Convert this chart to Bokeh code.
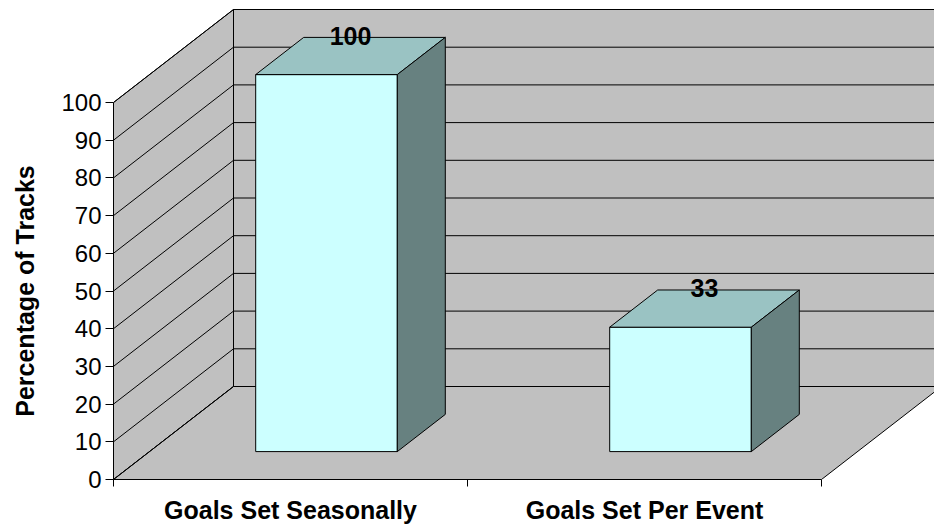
import math
from bokeh.plotting import figure
from bokeh.layouts import row
from bokeh.models import FixedTicker, Range1d
from bokeh.core.properties import value
from bokeh.embed import file_html
from bokeh.resources import INLINE

# ---- data ----
categories = ["Goals Set Seasonally", "Goals Set Per Event"]
values = [100, 33]
y_ticks = [0, 10, 20, 30, 40, 50, 60, 70, 80, 90, 100]
y_max = 100
y_title = "Percentage of Tracks"

# ---- 3D projection constants (data units) ----
DX = 120 / 354.0      # depth shift in x (category units)
DY = 93 / 3.77        # depth shift in y (value units)
BAR_X0, BAR_X1 = 0.3, 0.7   # bar extent within a category
BAR_Z0, BAR_Z1 = 0.3, 0.7   # bar extent in depth
FONT = "Liberation Sans"

WALL = "#C0C0C0"
FRONT = "#CCFFFF"
TOP = "#9AC3C3"
SIDE = "#678180"

TITLE_W = 44


def proj(x, y, z):
    return x + z * DX, y + z * DY


n = len(categories)
y_top = 479 / 3.77

p = figure(frame_width=821, frame_height=479,
           x_range=Range1d(0, 821 / 354.0), y_range=Range1d(0, y_top),
           output_backend="svg", toolbar_location=None,
           min_border_left=113 - TITLE_W, min_border_right=0, min_border_top=0, min_border_bottom=46)
p.xgrid.visible = False
p.ygrid.visible = False
p.outline_line_color = None
p.background_fill_color = "white"
p.border_fill_color = "white"

# back wall
bx = [proj(0, 0, 1)[0], proj(n + 0.2, 0, 1)[0], proj(n + 0.2, 0, 1)[0], proj(0, 0, 1)[0]]
by = [proj(0, 0, 1)[1], proj(0, 0, 1)[1], proj(0, y_max, 1)[1], proj(0, y_max, 1)[1]]
p.patch(bx, by, fill_color=WALL, line_color="black", line_width=1)

# side wall
sw = [proj(0, 0, 0), proj(0, y_max, 0), proj(0, y_max, 1), proj(0, 0, 1)]
p.patch([q[0] for q in sw], [q[1] for q in sw], fill_color=WALL, line_color="black", line_width=1)

# floor
fl = [proj(0, 0, 0), proj(n, 0, 0), proj(n, 0, 1), proj(0, 0, 1)]
p.patch([q[0] for q in fl], [q[1] for q in fl], fill_color=WALL, line_color="black", line_width=1)

# gridlines: back wall horizontals and side wall diagonals
gx, gy = [], []
for t in y_ticks:
    a = proj(0, t, 1)
    b = proj(n + 0.2, t, 1)
    gx.append([a[0], b[0]]); gy.append([a[1], b[1]])
    c = proj(0, t, 0)
    gx.append([c[0], a[0]]); gy.append([c[1], a[1]])
p.multi_line(gx, gy, line_color="black", line_width=1)

# bars
fxs, fys, txs, tys, sxs, sys_ = [], [], [], [], [], []
for i, v in enumerate(values):
    x0, x1 = i + BAR_X0, i + BAR_X1
    front = [proj(x0, 0, BAR_Z0), proj(x1, 0, BAR_Z0), proj(x1, v, BAR_Z0), proj(x0, v, BAR_Z0)]
    top = [proj(x0, v, BAR_Z0), proj(x1, v, BAR_Z0), proj(x1, v, BAR_Z1), proj(x0, v, BAR_Z1)]
    side = [proj(x1, 0, BAR_Z0), proj(x1, 0, BAR_Z1), proj(x1, v, BAR_Z1), proj(x1, v, BAR_Z0)]
    fxs.append([q[0] for q in front]); fys.append([q[1] for q in front])
    txs.append([q[0] for q in top]); tys.append([q[1] for q in top])
    sxs.append([q[0] for q in side]); sys_.append([q[1] for q in side])
p.patches(fxs, fys, fill_color=FRONT, line_color="black", line_width=1)
p.patches(txs, tys, fill_color=TOP, line_color="black", line_width=1)
p.patches(sxs, sys_, fill_color=SIDE, line_color="black", line_width=1)

# value labels
zm = (BAR_Z0 + BAR_Z1) / 2
lx = [proj(i + 0.5, v, zm)[0] for i, v in enumerate(values)]
ly = [proj(i + 0.5, v, zm)[1] + 20.5 / 3.77 for i, v in enumerate(values)]
p.text(x=lx, y=ly, text=[str(v) for v in values], text_font=value(FONT),
       text_font_size="25px", text_font_style="bold", text_color="black",
       text_align="center", text_baseline="alphabetic")

# y axis
ya = p.yaxis[0]
ya.ticker = FixedTicker(ticks=y_ticks)
ya.bounds = (0, y_max)
ya.axis_line_color = "black"
ya.major_tick_in = 0
ya.major_tick_out = 8
ya.minor_tick_line_color = None
ya.major_label_text_font = FONT
ya.major_label_text_font_size = "24px"
ya.major_label_text_color = "black"
ya.major_label_standoff = 4

# x axis
xa = p.xaxis[0]
xa.ticker = FixedTicker(ticks=[i + 0.5 for i in range(n)], minor_ticks=list(range(n + 1)))
xa.major_label_overrides = {i + 0.5: c for i, c in enumerate(categories)}
xa.bounds = (0, n)
xa.axis_line_color = "black"
xa.major_tick_line_color = None
xa.major_tick_in = 0
xa.major_tick_out = 0
xa.minor_tick_line_color = "black"
xa.minor_tick_in = 0
xa.minor_tick_out = 7
xa.major_label_text_font = FONT
xa.major_label_text_font_size = "25px"
xa.major_label_text_font_style = "bold"
xa.major_label_text_color = "black"
xa.major_label_standoff = 9

# narrow panel holding the y-axis title, sharing the value scale
t = figure(frame_width=TITLE_W, frame_height=479,
           x_range=Range1d(0, TITLE_W), y_range=p.y_range,
           output_backend="svg", toolbar_location=None,
           min_border_left=0, min_border_right=0, min_border_top=0, min_border_bottom=46)
t.axis.visible = False
t.xgrid.visible = False
t.ygrid.visible = False
t.outline_line_color = None
t.background_fill_color = "white"
t.border_fill_color = "white"
t.text(x=[24], y=[y_max / 2], text=[y_title], angle=math.pi / 2,
       text_font=value(FONT), text_font_size="25px", text_font_style="bold",
       text_color="black", text_align="center", text_baseline="middle")

layout = row(t, p, spacing=0)
open("out.html", "w").write(file_html(layout, INLINE))
